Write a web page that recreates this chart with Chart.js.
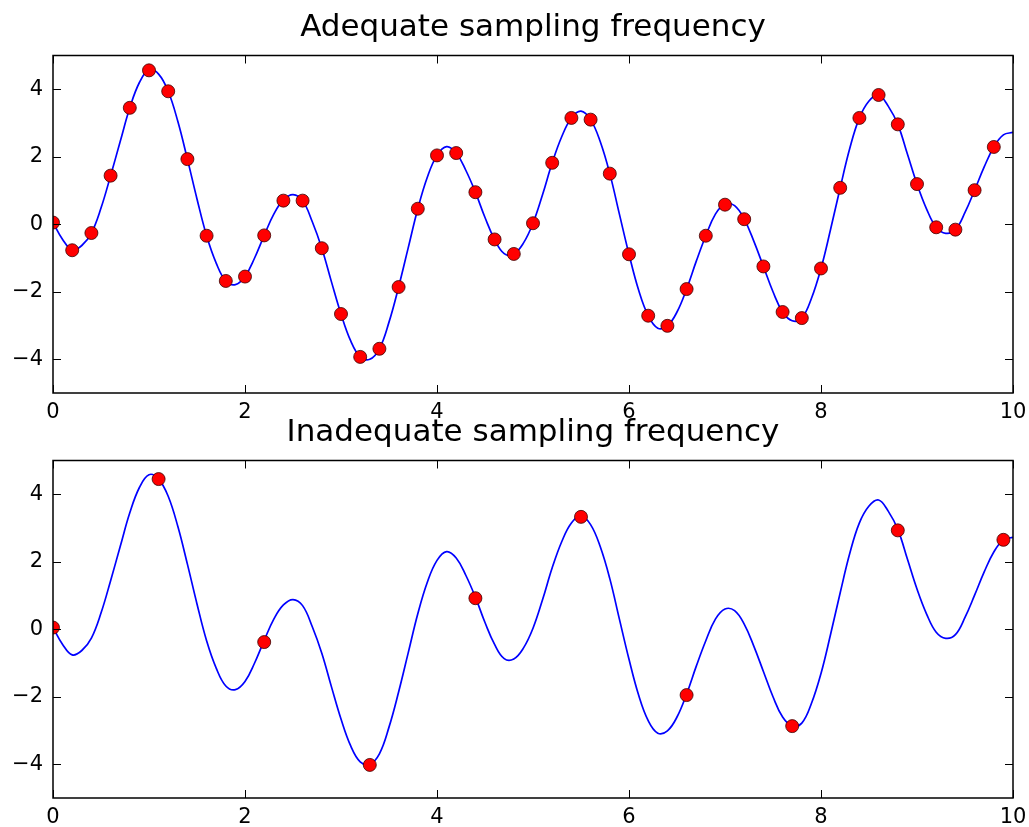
<!DOCTYPE html>
<html>
<head>
<meta charset="utf-8">
<script src="https://cdn.jsdelivr.net/npm/chart.js@4"></script>
<style>
    html, body {margin: 0; padding: 0; background: #fff;}
    .plot {position: absolute; left: 0; top: 0;}
</style>
</head>
<body>
<canvas id="topChart" class="plot" width="1029" height="827"></canvas>
<canvas id="bottomChart" class="plot" width="1029" height="827"></canvas>
<script>

// continuous signal, every 0.1
const curveX = [
    0, 0.1, 0.2, 0.3, 0.4, 0.5, 0.6, 0.7, 0.8, 0.9,
    1, 1.1, 1.2, 1.3, 1.4, 1.5, 1.6, 1.7, 1.8, 1.9,
    2, 2.1, 2.2, 2.3, 2.4, 2.5, 2.6, 2.7, 2.8, 2.9,
    3, 3.1, 3.2, 3.3, 3.4, 3.5, 3.6, 3.7, 3.8, 3.9,
    4, 4.1, 4.2, 4.3, 4.4, 4.5, 4.6, 4.7, 4.8, 4.9,
    5, 5.1, 5.2, 5.3, 5.4, 5.5, 5.6, 5.7, 5.8, 5.9,
    6, 6.1, 6.2, 6.3, 6.4, 6.5, 6.6, 6.7, 6.8, 6.9,
    7, 7.1, 7.2, 7.3, 7.4, 7.5, 7.6, 7.7, 7.8, 7.9,
    8, 8.1, 8.2, 8.3, 8.4, 8.5, 8.6, 8.7, 8.8, 8.9,
    9, 9.1, 9.2, 9.3, 9.4, 9.5, 9.6, 9.7, 9.8, 9.9,
    10
];
const curveY = [
    0.05, -0.45, -0.76, -0.63, -0.26, 0.48, 1.44, 2.45, 3.45, 4.20,
    4.58, 4.45, 3.94, 3.05, 1.93, 0.75, -0.34, -1.15, -1.68, -1.79,
    -1.55, -1.00, -0.33, 0.30, 0.72, 0.88, 0.70, 0.08, -0.71, -1.70,
    -2.66, -3.45, -3.93, -4.00, -3.69, -2.90, -1.86, -0.70, 0.46, 1.40,
    2.04, 2.30, 2.11, 1.60, 0.95, 0.20, -0.45, -0.87, -0.88, -0.56,
    0.03, 0.88, 1.82, 2.60, 3.15, 3.35, 3.10, 2.45, 1.50, 0.30,
    -0.89, -1.95, -2.71, -3.08, -3.01, -2.60, -1.92, -1.10, -0.34, 0.30,
    0.60, 0.55, 0.15, -0.50, -1.25, -2.00, -2.60, -2.86, -2.78, -2.20,
    -1.31, -0.15, 1.08, 2.25, 3.15, 3.65, 3.83, 3.50, 2.96, 2.08,
    1.19, 0.45, -0.09, -0.27, -0.16, 0.35, 1.01, 1.70, 2.29, 2.65,
    2.72
];

// adequate sampling (every 0.2)
const adequateX = [
    0, 0.2, 0.4, 0.6, 0.8, 1, 1.2, 1.4, 1.6, 1.8,
    2, 2.2, 2.4, 2.6, 2.8, 3, 3.2, 3.4, 3.6, 3.8,
    4, 4.2, 4.4, 4.6, 4.8, 5, 5.2, 5.4, 5.6, 5.8,
    6, 6.2, 6.4, 6.6, 6.8, 7, 7.2, 7.4, 7.6, 7.8,
    8, 8.2, 8.4, 8.6, 8.8, 9, 9.2, 9.4, 9.6, 9.8
];
const adequateY = [
    0.05, -0.77, -0.26, 1.44, 3.45, 4.56, 3.94, 1.93, -0.34, -1.68,
    -1.55, -0.33, 0.70, 0.70, -0.71, -2.66, -3.93, -3.69, -1.86, 0.46,
    2.04, 2.11, 0.95, -0.45, -0.88, 0.03, 1.82, 3.15, 3.10, 1.50,
    -0.89, -2.71, -3.01, -1.92, -0.34, 0.58, 0.15, -1.25, -2.60, -2.78,
    -1.31, 1.08, 3.15, 3.83, 2.96, 1.19, -0.09, -0.16, 1.01, 2.29
];

// inadequate sampling (every 1.1)
const inadequateX = [0, 1.1, 2.2, 3.3, 4.4, 5.5, 6.6, 7.7, 8.8, 9.9];
const inadequateY = [0.05, 4.45, -0.38, -4.02, 0.92, 3.33, -1.95, -2.87, 2.93, 2.65];

const xTicks = [0, 2, 4, 6, 8, 10];
const yTicks = [-4, -2, 0, 2, 4];

const FONT = "'DejaVu Sans', sans-serif";

const toPoints = (xs, ys) => xs.map((x, i) => ({x: x, y: ys[i]}));

// matplotlib style frame with inward ticks on all sides, title over the plot area
const framePlugin = {
    id: 'frame',
    afterDraw(chart, args, opts) {
        const {ctx, chartArea: a, scales} = chart;
        ctx.save();
        ctx.strokeStyle = '#000';
        ctx.lineWidth = 1;
        ctx.beginPath();
        xTicks.forEach(v => {
            const px = Math.round(scales.x.getPixelForValue(v)) + 0.5;
            ctx.moveTo(px, a.bottom);
            ctx.lineTo(px, a.bottom - 8);
            ctx.moveTo(px, a.top);
            ctx.lineTo(px, a.top + 8);
        });
        yTicks.forEach(v => {
            const py = Math.round(scales.y.getPixelForValue(v)) + 0.5;
            ctx.moveTo(a.left, py);
            ctx.lineTo(a.left + 8, py);
            ctx.moveTo(a.right, py);
            ctx.lineTo(a.right - 8, py);
        });
        ctx.stroke();
        ctx.lineWidth = 1.5;
        ctx.strokeRect(a.left, a.top, a.right - a.left, a.bottom - a.top);

        if (opts.title) {
            ctx.fillStyle = '#000';
            ctx.font = '31px ' + FONT;
            ctx.textAlign = 'center';
            ctx.textBaseline = 'alphabetic';
            ctx.fillText(opts.title, (a.left + a.right) / 2, a.top - 19.5);
        }
        ctx.restore();
    }
};

function makeChart(id, title, sampleX, sampleY, pad, xHeight) {
    const ctx = document.getElementById(id).getContext('2d');
    return new Chart(ctx, {
        type: 'scatter',
        data: {
            datasets: [
                {
                    data: toPoints(sampleX, sampleY),
                    pointRadius: 6.5,
                    pointBackgroundColor: '#ff0000',
                    pointBorderColor: 'rgba(60,0,0,0.8)',
                    pointBorderWidth: 1,
                    showLine: false
                },
                {
                    data: toPoints(curveX, curveY),
                    showLine: true,
                    borderColor: '#0000ff',
                    borderWidth: 1.7,
                    pointRadius: 0,
                    tension: 0.4,
                    fill: false
                }
            ]
        },
        options: {
            responsive: false,
            animation: false,
            devicePixelRatio: 1,
            layout: {padding: pad},
            plugins: {
                legend: {display: false},
                tooltip: {enabled: false},
                title: {display: false},
                frame: {title: title}
            },
            scales: {
                x: {
                    type: 'linear',
                    min: 0,
                    max: 10,
                    grid: {display: false, drawTicks: false, tickLength: 0},
                    border: {display: false},
                    afterBuildTicks: s => { s.ticks = xTicks.map(v => ({value: v})); },
                    afterFit: s => {
                        s.height = xHeight;
                        s.paddingLeft = 0;
                        s.paddingRight = 0;
                    },
                    ticks: {
                        color: '#000',
                        padding: 7,
                        maxRotation: 0,
                        autoSkip: false,
                        font: {family: FONT, size: 21},
                        callback: v => String(v)
                    }
                },
                y: {
                    type: 'linear',
                    min: -5,
                    max: 5,
                    grid: {display: false, drawTicks: false, tickLength: 0},
                    border: {display: false},
                    afterBuildTicks: s => { s.ticks = yTicks.map(v => ({value: v})); },
                    afterFit: s => {
                        s.width = 53;
                        s.paddingTop = 0;
                        s.paddingBottom = 0;
                    },
                    ticks: {
                        color: '#000',
                        padding: 10,
                        autoSkip: false,
                        font: {family: FONT, size: 21},
                        callback: v => (v < 0 ? '\u2212' + Math.abs(v) : String(v))
                    }
                }
            }
        },
        plugins: [framePlugin]
    });
}

makeChart('topChart', 'Adequate sampling frequency', adequateX, adequateY,
    {left: 0, right: 16, top: 55.5, bottom: 394}, 40);

makeChart('bottomChart', 'Inadequate sampling frequency', inadequateX, inadequateY,
    {left: 0, right: 16, top: 460.5, bottom: 0}, 29);

</script>
</body>
</html>
